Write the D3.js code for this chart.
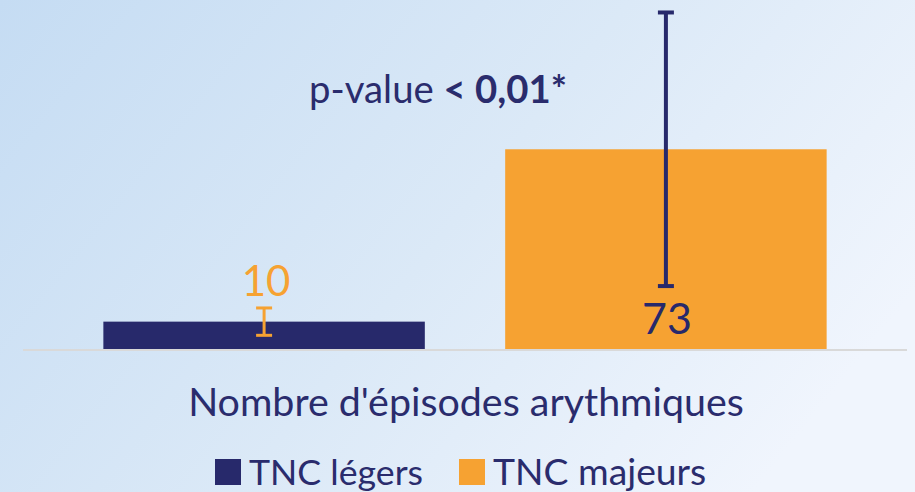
<!DOCTYPE html>
<html>
<head>
<meta charset="utf-8">
<script src="https://cdn.jsdelivr.net/npm/d3@7"></script>
<style>
  html, body { margin: 0; padding: 0; }
  body { width: 915px; height: 492px; overflow: hidden; }
  text { font-family: Lato, "Open Sans", sans-serif; }
</style>
</head>
<body>
<div id="chart"></div>
<script>
var svgWidth = 915;
var svgHeight = 492;

// data
var series = ["TNC légers", "TNC majeurs"];
var values = [10, 73];
var errors = [5, 50];
var category = "Nombre d'épisodes arythmiques";
var pValueText = ["p-value ", "< 0,01*"];

var colors = ["#27296b", "#f6a232"];
var textColor = "#2a2c6d";

var svg = d3.select("#chart")
  .append("svg")
  .attr("width", svgWidth)
  .attr("height", svgHeight);

// shrink or grow a text so it spans the width seen in the reference
function fitWidth(sel, target) {
  var size = +sel.attr("font-size");
  var w = sel.node().getComputedTextLength();
  if (w > 0) sel.attr("font-size", (size * target / w).toFixed(1));
}

// background gradient
var defs = svg.append("defs");
var grad = defs.append("linearGradient")
  .attr("id", "bg")
  .attr("gradientUnits", "userSpaceOnUse")
  .attr("x1", 0).attr("y1", 0)
  .attr("x2", 700).attr("y2", 560);
grad.append("stop").attr("offset", 0).attr("stop-color", "#c5dcf3");
grad.append("stop").attr("offset", 0.55).attr("stop-color", "#dbe9f7");
grad.append("stop").attr("offset", 1).attr("stop-color", "#f0f5fd");

svg.append("rect")
  .attr("width", svgWidth)
  .attr("height", svgHeight)
  .attr("fill", "url(#bg)");

// scales
var xScale = d3.scaleBand()
  .domain(series)
  .range([23, 907])
  .paddingInner(0.2)
  .paddingOuter(0.2);

var yScale = d3.scaleLinear()
  .domain([0, 125])
  .range([349, 7]);

// bars
svg.selectAll("rect.bar")
  .data(series)
  .enter()
  .append("rect")
  .classed("bar", true)
  .attr("x", d => xScale(d))
  .attr("width", xScale.bandwidth())
  .attr("y", (d, i) => yScale(values[i]))
  .attr("height", (d, i) => yScale(0) - yScale(values[i]))
  .attr("fill", (d, i) => colors[i]);

// baseline
svg.append("line")
  .attr("x1", 23)
  .attr("x2", 907)
  .attr("y1", yScale(0) + 1)
  .attr("y2", yScale(0) + 1)
  .attr("stroke", "#d9d9d9")
  .attr("stroke-width", 2);

// error bars (colour of the other series)
var errGroup = svg.selectAll("g.err")
  .data(series)
  .enter()
  .append("g")
  .classed("err", true)
  .attr("stroke", (d, i) => colors[1 - i]);

errGroup.append("line")
  .attr("x1", d => xScale(d) + xScale.bandwidth() / 2)
  .attr("x2", d => xScale(d) + xScale.bandwidth() / 2)
  .attr("y1", (d, i) => yScale(values[i] + errors[i]))
  .attr("y2", (d, i) => yScale(values[i] - errors[i]))
  .attr("stroke-width", (d, i) => i === 0 ? 3 : 4);

[1, -1].forEach(function(sign) {
  errGroup.append("line")
    .attr("x1", d => xScale(d) + xScale.bandwidth() / 2 - 8)
    .attr("x2", d => xScale(d) + xScale.bandwidth() / 2 + 8)
    .attr("y1", (d, i) => yScale(values[i] + sign * errors[i]))
    .attr("y2", (d, i) => yScale(values[i] + sign * errors[i]))
    .attr("stroke-width", (d, i) => i === 0 ? 3 : 4);
});

// value labels
svg.append("text")
  .attr("x", xScale(series[0]) + xScale.bandwidth() / 2 + 2)
  .attr("y", 296)
  .attr("text-anchor", "middle")
  .attr("font-size", 42)
  .attr("fill", colors[1])
  .text(values[0]);

svg.append("text")
  .attr("x", xScale(series[1]) + xScale.bandwidth() / 2 + 1)
  .attr("y", 334)
  .attr("text-anchor", "middle")
  .attr("font-size", 43)
  .attr("fill", colors[0])
  .text(values[1]);

// p-value annotation
var pText = svg.append("text")
  .attr("x", 438)
  .attr("y", 103)
  .attr("text-anchor", "middle")
  .attr("font-size", 35)
  .attr("fill", textColor);
pText.append("tspan").text(pValueText[0]);
pText.append("tspan").attr("font-weight", "bold").text(pValueText[1]);
fitWidth(pText, 258);

// category label
var catText = svg.append("text")
  .attr("x", 466)
  .attr("y", 416)
  .attr("text-anchor", "middle")
  .attr("font-size", 35)
  .attr("fill", textColor)
  .text(category);
fitWidth(catText, 556);

// legend
var legendX = [215, 459];
var legend = svg.selectAll("g.legend")
  .data(series)
  .enter()
  .append("g")
  .classed("legend", true)
  .attr("transform", (d, i) => `translate(${legendX[i]}, 459)`);

legend.append("rect")
  .attr("width", 26)
  .attr("height", 26)
  .attr("fill", (d, i) => colors[i]);

var legendText = legend.append("text")
  .attr("x", 34)
  .attr("y", 26)
  .attr("font-size", 36)
  .attr("fill", textColor)
  .text(d => d);
var legendW = [174, 213];
legendText.each(function(d, i) { fitWidth(d3.select(this), legendW[i]); });
</script>
</body>
</html>
